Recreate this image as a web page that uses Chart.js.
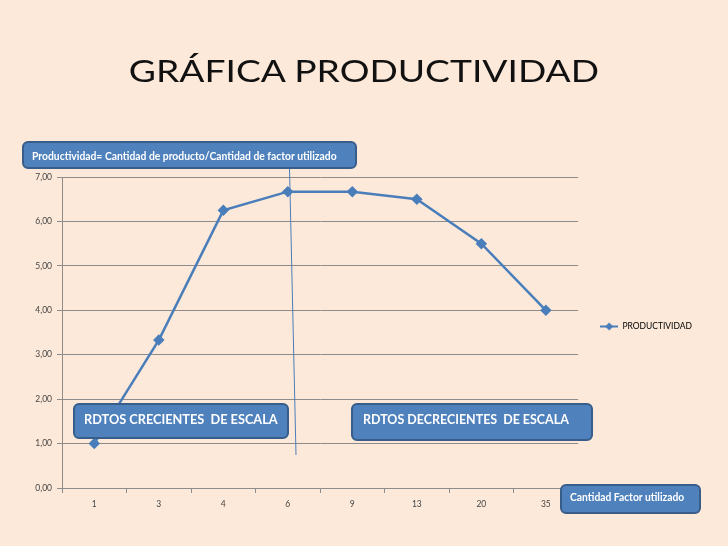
<!DOCTYPE html>
<html><head><meta charset="utf-8">
<script src="https://cdn.jsdelivr.net/npm/chart.js@4/dist/chart.umd.min.js"></script>
<style>
html,body{margin:0;padding:0;background:#FDE9D9;}
#wrap{position:relative;width:728px;height:546px;overflow:hidden;background:#FDE9D9;}
#c{position:absolute;left:0;top:0;}
#title{position:absolute;left:0;top:51px;width:728px;text-align:center;font-family:Lato,"Open Sans",sans-serif;font-size:31px;color:#111;}
#title span{display:inline-block;transform:scaleX(1.2);transform-origin:center;}
.box{position:absolute;background:#4F81BD;border:2px solid #385D8A;border-radius:6px;color:#fff;font-family:Lato,"Open Sans",sans-serif;font-weight:bold;box-sizing:border-box;white-space:nowrap;}
.box span{display:inline-block;transform-origin:left center;}
svg{position:absolute;left:0;top:0;}
</style></head>
<body><div id="wrap">
<canvas id="c" width="728" height="546"></canvas>
<div id="title"><span>GRÁFICA PRODUCTIVIDAD</span></div>
<svg width="728" height="546"><line x1="289.5" y1="168" x2="296" y2="455" stroke="#4A7EBB" stroke-width="1"/></svg>
<div class="box" style="left:22px;top:141px;width:335px;height:28px;font-size:11px;padding:6px 0 0 8px;"><span style="transform:scaleX(0.94)">Productividad= Cantidad de producto/Cantidad de factor utilizado</span></div>
<div class="box" style="left:73px;top:403px;width:216px;height:36px;font-size:14px;padding:5px 0 0 9px;"><span style="transform:scaleX(0.91)">RDTOS CRECIENTES&nbsp; DE ESCALA</span></div>
<div class="box" style="left:351px;top:403px;width:242px;height:38px;font-size:14px;padding:5px 0 0 10px;"><span style="transform:scaleX(0.89)">RDTOS DECRECIENTES&nbsp; DE ESCALA</span></div>
<div class="box" style="left:560px;top:484px;width:141px;height:30px;font-size:10.5px;padding:5px 0 0 8px;"><span style="transform:scaleX(0.98)">Cantidad Factor utilizado</span></div>
</div>
<script>
const categories = ["1","3","4","6","9","13","20","35"];
const productividad = [1.00, 3.33, 6.25, 6.67, 6.67, 6.50, 5.50, 4.00];
const yTicks = [0,1,2,3,4,5,6,7];
const seriesName = "PRODUCTIVIDAD";
const blue = "#4A7EBB";

const legendImg = document.createElement('canvas');
legendImg.width = 18; legendImg.height = 9;
(function(){
  const g = legendImg.getContext('2d');
  g.strokeStyle = blue; g.lineWidth = 2;
  g.beginPath(); g.moveTo(0,4.5); g.lineTo(18,4.5); g.stroke();
  g.fillStyle = blue; g.beginPath();
  g.moveTo(9,0.5); g.lineTo(13,4.5); g.lineTo(9,8.5); g.lineTo(5,4.5); g.closePath(); g.fill();
})();

const legendShift = {
  id: 'legendShift',
  afterLayout(chart) {
    const L = chart.legend; if (!L) return;
    L.left += 14; L.right += 14; L.top -= 6; L.bottom -= 6;
  }
};

new Chart(document.getElementById('c'), {
  type: 'line',
  plugins: [legendShift],
  data: { labels: categories, datasets: [{
    label: seriesName, data: productividad,
    borderColor: blue, backgroundColor: blue, borderWidth: 2.5,
    pointStyle: 'rectRot', pointRadius: 4, pointBackgroundColor: blue, pointBorderColor: blue,
    tension: 0
  }]},
  options: {
    responsive: false, animation: false, devicePixelRatio: 1,
    layout: { padding: { top: 177, left: 0, right: 40, bottom: 28 } },
    plugins: {
      tooltip: { enabled: false },
      legend: { position: 'right', fullSize: false,
        labels: { usePointStyle: true, pointStyleWidth: 18, padding: 8, color: '#333',
          font: { family: 'Lato, "Open Sans", sans-serif', size: 8.5 },
          generateLabels: (chart) => [{ text: seriesName, pointStyle: legendImg, fillStyle: blue, strokeStyle: blue, lineWidth: 0, datasetIndex: 0 }]
        }
      }
    },
    scales: {
      x: { offset: true,
        grid: { offset: true, drawOnChartArea: false, drawTicks: true, tickLength: 5, color: '#8c8c8c' },
        border: { color: '#8c8c8c' },
        ticks: { color: '#444', padding: 6, font: { family: 'Lato, "Open Sans", sans-serif', size: 8.5 } },
        afterFit: (s) => { s.height = 30; }
      },
      y: { min: 0, max: 7,
        afterBuildTicks: (s) => { s.ticks = yTicks.map(v => ({ value: v })); },
        grid: { color: '#8c8c8c', tickLength: 5 },
        border: { color: '#8c8c8c' },
        ticks: { color: '#444', padding: 5, font: { family: 'Lato, "Open Sans", sans-serif', size: 8.5 },
          callback: (v) => Number(v).toFixed(2).replace('.', ',') },
        afterFit: (s) => { s.width = 62; }
      }
    }
  }
});
</script>
</body></html>
